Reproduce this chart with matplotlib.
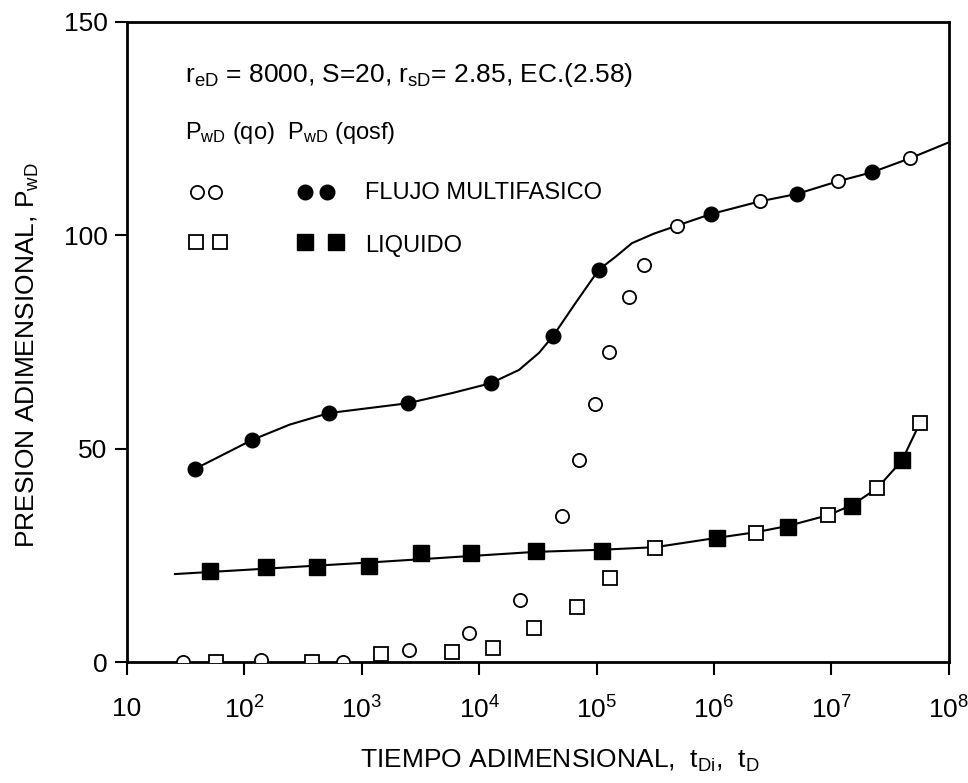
import matplotlib
matplotlib.use("Agg")
import matplotlib.pyplot as plt

font = "Liberation Sans"
plt.rcParams["font.family"] = [font, "DejaVu Sans"]
plt.rcParams["mathtext.fontset"] = "custom"
plt.rcParams["mathtext.rm"] = font
plt.rcParams["mathtext.it"] = font
plt.rcParams["mathtext.bf"] = font

# P_wD(qosf), flujo multifasico (filled circles)
t_mf_osf = [37.8, 116, 524, 2455, 12560, 42700, 104500, 9.4e5, 5.05e6, 2.22e7]
p_mf_osf = [45.2, 52.0, 58.3, 60.6, 65.3, 76.4, 91.9, 104.9, 109.6, 114.7]

# P_wD(qo), flujo multifasico (open circles)
t_mf_qo = [30, 139, 698, 2500, 8200, 2.22e4, 5.09e4, 7.06e4, 9.6e4, 1.27e5, 1.88e5, 2.52e5,
           4.83e5, 2.47e6, 1.14e7, 4.7e7]
p_mf_qo = [0.0, 0.5, 0.0, 2.8, 6.9, 14.5, 34.3, 47.3, 60.4, 72.5, 85.6, 93.0,
           102.2, 107.9, 112.6, 118.0]

# P_wD(qosf), liquido (filled squares)
t_liq_osf = [50.7, 154, 417, 1146, 3190, 8490, 30300, 1.11e5, 1.07e6, 4.3e6, 1.51e7, 3.99e7]
p_liq_osf = [21.4, 22.2, 22.2, 22.5, 25.5, 25.5, 25.9, 26.0, 29.1, 31.6, 36.6, 47.2]

# P_wD(qo), liquido (open squares)
t_liq_qo = [57.8, 375, 1460, 5920, 13100, 29200, 68200, 1.31e5,
            3.16e5, 2.27e6, 9.4e6, 2.45e7, 5.65e7]
p_liq_qo = [0.0, 0.0, 1.9, 2.4, 3.2, 7.9, 13.0, 19.6,
            26.6, 30.2, 34.4, 40.7, 55.9]

# curves drawn through the points
t_curve_mf = [37.8, 116, 243, 524, 2455, 5900, 12560, 21800, 32300, 42700, 66200, 104500,
              1.45e5, 2.0e5, 3.06e5, 4.83e5, 9.4e5, 2.47e6, 5.05e6, 1.14e7, 2.22e7, 4.7e7, 1e8]
p_curve_mf = [45.2, 52.0, 55.6, 58.3, 60.6, 63.0, 65.3, 68.4, 72.4, 76.4, 84.1, 91.9,
              94.9, 98.1, 100.3, 102.2, 104.9, 107.9, 109.6, 112.6, 114.7, 118.0, 121.7]

t_curve_liq = [25.6, 1146, 30300, 1.11e5, 3.16e5, 1.07e6, 2.27e6, 4.3e6, 9.4e6, 1.51e7,
               2.45e7, 3.99e7, 5.65e7]
p_curve_liq = [20.6, 23.3, 25.8, 26.3, 26.9, 29.1, 30.4, 31.9, 34.4, 36.8,
               40.7, 47.2, 55.9]

xticks = [10, 1e2, 1e3, 1e4, 1e5, 1e6, 1e7, 1e8]
xticklabels = ["10", "$10^{2}$", "$10^{3}$", "$10^{4}$", "$10^{5}$", "$10^{6}$", "$10^{7}$", "$10^{8}$"]
yticks = [0, 50, 100, 150]

fig = plt.figure(figsize=(9.68, 7.83), dpi=100)
ax = fig.add_axes([0.1312, 0.1545, 0.849, 0.818])

ax.plot(t_curve_mf, p_curve_mf, color="black", lw=1.5, zorder=2)
ax.plot(t_curve_liq, p_curve_liq, color="black", lw=1.5, zorder=2)

ax.plot(t_mf_osf, p_mf_osf, "o", ms=10.5, color="black", zorder=3)
ax.plot(t_mf_qo, p_mf_qo, "o", ms=9.5, mfc="white", mec="black", mew=1.3, zorder=3)
ax.plot(t_liq_osf, p_liq_osf, "s", ms=11.5, color="black", zorder=3)
ax.plot(t_liq_qo, p_liq_qo, "s", ms=9.5, mfc="white", mec="black", mew=1.3, zorder=3)

ax.set_xscale("log")
ax.set_xlim(10, 1e8)
ax.set_ylim(0, 150)
ax.set_xticks(xticks)
ax.set_xticklabels(xticklabels)
ax.set_yticks(yticks)
ax.minorticks_off()
ax.tick_params(axis="both", direction="out", length=9, width=1.5, labelsize=19)
ax.tick_params(axis="x", pad=16)
ax.tick_params(axis="y", pad=5)
ax.tick_params(top=False, right=False)
for s in ax.spines.values():
    s.set_linewidth(2)

# annotations / hand-drawn legend
ax.text(0.071, 0.905, r"r$_{\mathregular{eD}}$ = 8000, S=20, r$_{\mathregular{sD}}$= 2.85, EC.(2.58)",
        transform=ax.transAxes, fontsize=19, va="baseline")
ax.text(0.071, 0.817, r"P$_{\mathregular{wD}}$ (qo)  P$_{\mathregular{wD}}$ (qosf)",
        transform=ax.transAxes, fontsize=17, va="baseline")

ax.plot([0.0847, 0.107], [0.734, 0.734], "o", ms=9.5, mfc="white", mec="black", mew=1.3,
        transform=ax.transAxes, clip_on=False)
ax.plot([0.2165, 0.2437], [0.734, 0.734], "o", ms=10.5, color="black",
        transform=ax.transAxes, clip_on=False)
ax.text(0.2895, 0.723, "FLUJO MULTIFASICO", transform=ax.transAxes, fontsize=17, va="baseline")

ax.plot([0.084, 0.113], [0.656, 0.656], "s", ms=9.5, mfc="white", mec="black", mew=1.3,
        transform=ax.transAxes, clip_on=False)
ax.plot([0.2165, 0.254], [0.656, 0.656], "s", ms=11, color="black",
        transform=ax.transAxes, clip_on=False)
ax.text(0.2895, 0.640, "LIQUIDO", transform=ax.transAxes, fontsize=17, va="baseline")

fig.text(0.578, 0.019, r"TIEMPO ADIMENSIONAL,  t$_{\mathregular{Di}}$,  t$_{\mathregular{D}}$",
         fontsize=19, ha="center", va="baseline")
fig.text(0.036, 0.547, r"PRESION ADIMENSIONAL, P$_{\mathregular{wD}}$",
         fontsize=19, rotation=90, rotation_mode="anchor", ha="center", va="baseline")

fig.savefig("out.png", dpi=100)
